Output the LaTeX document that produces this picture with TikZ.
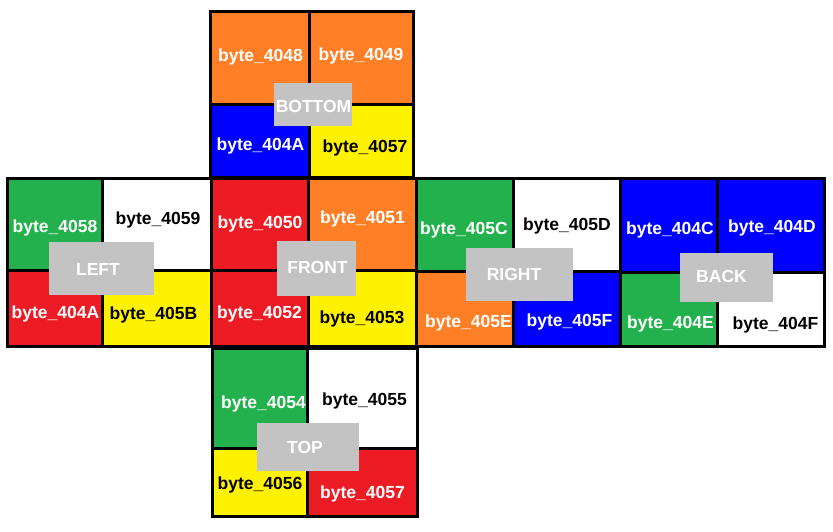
\documentclass[tikz,border=0pt]{standalone}
\usepackage{fontspec}
\setmainfont{Liberation Sans}
\definecolor{cor}{HTML}{FF7F27}
\definecolor{cbl}{HTML}{0000FF}
\definecolor{cye}{HTML}{FFF200}
\definecolor{cre}{HTML}{ED1C24}
\definecolor{cgr}{HTML}{22B14C}
\definecolor{cgy}{HTML}{C3C3C3}
\newcommand{\mycell}[5]{\fill[#5] (#1,#2) rectangle (#3,#4);}
% face: x1 xm x2 y1 ym y2
\newcommand{\myface}[6]{%
  \draw[gridline] (#1,#4) rectangle (#3,#6);
  \draw[gridline] (#2,#4) -- (#2,#6);
  \draw[gridline] (#1,#5) -- (#3,#5);}
\begin{document}
\begin{tikzpicture}[x=1pt,y=-1pt,
  ctext/.style={font=\bfseries\fontsize{17.5}{20}\selectfont, inner sep=0pt, anchor=base},
  wt/.style={ctext,text=white},
  bk/.style={ctext,text=black},
  labbox/.style={fill=cgy,draw=none},
  labtext/.style={font=\bfseries\fontsize{17.5}{20}\selectfont,text=white,inner sep=0pt,anchor=base},
  gridline/.style={line width=3pt,draw=black}]
\useasboundingbox (0,0) rectangle (833,531);
% ---------- BOTTOM ----------
\mycell{210}{11}{309}{104}{cor}
\mycell{309}{11}{413}{104}{cor}
\mycell{210}{104}{309}{177}{cbl}
\mycell{309}{104}{413}{177}{cye}
% ---------- LEFT ----------
\mycell{7}{178}{102}{270}{cgr}
\mycell{102}{178}{211}{270}{white}
\mycell{7}{270}{102}{346}{cre}
\mycell{102}{270}{211}{346}{cye}
% ---------- FRONT ----------
\mycell{211}{178}{308}{270}{cre}
\mycell{308}{178}{416}{270}{cor}
\mycell{211}{270}{308}{346}{cre}
\mycell{308}{270}{416}{346}{cye}
% ---------- RIGHT ----------
\mycell{416}{178}{513}{271}{cgr}
\mycell{513}{178}{620}{271}{white}
\mycell{416}{271}{513}{346}{cor}
\mycell{513}{271}{620}{346}{cbl}
% ---------- BACK ----------
\mycell{620}{178}{717}{272}{cbl}
\mycell{717}{178}{824}{272}{cbl}
\mycell{620}{272}{717}{346}{cgr}
\mycell{717}{272}{824}{346}{white}
% ---------- TOP ----------
\mycell{212}{348}{307}{448}{cgr}
\mycell{307}{348}{417}{448}{white}
\mycell{212}{448}{307}{516}{cye}
\mycell{307}{448}{417}{516}{cre}
% grid lines
\myface{210}{309}{413}{11}{104}{177}
\myface{7}{102}{211}{178}{270}{346}
\myface{211}{308}{416}{178}{270}{346}
\myface{416}{513}{620}{178}{271}{346}
\myface{620}{717}{824}{178}{272}{346}
\myface{212}{307}{417}{348}{448}{516}
% cell texts
\node[wt] (b48) at (260.5,61) {byte\_4048};
\node[wt] (b49) at (361,60) {byte\_4049};
\node[wt] (b4A) at (260.5,150) {byte\_404A};
\node[bk] (b57) at (365,152) {byte\_4057};
\node[wt] (l58) at (55,232) {byte\_4058};
\node[bk] (l59) at (158,224) {byte\_4059};
\node[wt] (l4A) at (55.5,318) {byte\_404A};
\node[bk] (l5B) at (153.5,319) {byte\_405B};
\node[wt] (f50) at (260,228) {byte\_4050};
\node[wt] (f51) at (362.5,223) {byte\_4051};
\node[wt] (f52) at (259.5,318) {byte\_4052};
\node[bk] (f53) at (362,323) {byte\_4053};
\node[wt] (r5C) at (464,234) {byte\_405C};
\node[bk] (r5D) at (567,230) {byte\_405D};
\node[wt] (r5E) at (468.5,327) {byte\_405E};
\node[wt] (r5F) at (569.5,326) {byte\_405F};
\node[wt] (k4C) at (670,234) {byte\_404C};
\node[wt] (k4D) at (772,232) {byte\_404D};
\node[wt] (k4E) at (670.5,328) {byte\_404E};
\node[bk] (k4F) at (775.5,329) {byte\_404F};
\node[wt] (t54) at (263.5,408) {byte\_4054};
\node[bk] (t55) at (364.5,405) {byte\_4055};
\node[bk] (t56) at (260,489) {byte\_4056};
\node[wt] (t57) at (362.5,498) {byte\_4057};
% face labels
\fill[labbox] (274,83) rectangle (352,126);
\node[labtext] (lbot) at (313.5,112) {BOTTOM};
\fill[labbox] (49,242) rectangle (154,295);
\node[labtext] (llef) at (98,275) {LEFT};
\fill[labbox] (277,241) rectangle (356,296);
\node[labtext] (lfro) at (317.5,273) {FRONT};
\fill[labbox] (466,248) rectangle (573,301);
\node[labtext] (lrig) at (514,280) {RIGHT};
\fill[labbox] (680,253) rectangle (773,302);
\node[labtext] (lbac) at (721.5,282) {BACK};
\fill[labbox] (257,423) rectangle (359,471);
\node[labtext] (ltop) at (305,453) {TOP};
\end{tikzpicture}
\end{document}
